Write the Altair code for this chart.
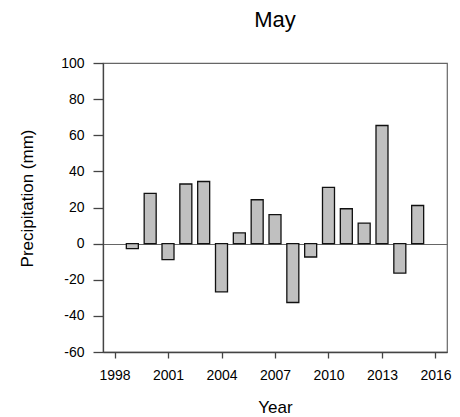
import altair as alt
import pandas as pd

# May precipitation anomalies by year
years = list(range(1999, 2016))
precip = [-2.8, 27.8, -8.9, 33.0, 34.4, -26.7, 5.9, 24.3, 16.1,
          -32.6, -7.4, 31.1, 19.3, 11.3, 65.4, -16.3, 21.1]
x_ticks = [1998, 2001, 2004, 2007, 2010, 2013, 2016]
y_ticks = [-60, -40, -20, 0, 20, 40, 60, 80, 100]

df = pd.DataFrame({"Year": years, "Precipitation": precip})

FONT = "Liberation Sans"
AXIS_COLOR = "#444444"

x_scale = alt.Scale(domain=[1997.635, 2016.365], nice=False, zero=False)
y_scale = alt.Scale(domain=[-60, 100], nice=False, zero=False)

chart = (
    alt.Chart(df)
    .mark_bar(size=12, fill="#c0c0c0", stroke="#111111", strokeWidth=1.3, orient="vertical")
    .encode(
        x=alt.X(
            "Year:Q",
            scale=x_scale,
            axis=alt.Axis(
                values=x_ticks, format="d", title="Year", grid=False,
                tickSize=6, labelPadding=10, labelFontSize=14, labelOverlap=False,
                titleFontSize=17, titleX=172, titleY=55,
                titleAlign="center", titleBaseline="middle",
            ),
        ),
        y=alt.Y(
            "Precipitation:Q",
            scale=y_scale,
            axis=alt.Axis(
                values=y_ticks, title="Precipitation (mm)",
                # only the zero gridline is shown, as the baseline of the bars
                grid=True, gridColor="#666666", gridWidth=1,
                gridOpacity=alt.condition("datum.value === 0", alt.value(1), alt.value(0)),
                tickSize=10, labelPadding=9, labelFontSize=14, labelOverlap=False,
                labelExpr="'' + datum.value",
                titleFontSize=17, titleX=-76, titleY=135,
                titleAlign="center", titleBaseline="middle", titleAngle=270,
            ),
        ),
        y2=alt.datum(0),
    )
    .properties(
        width=344,
        height=289,
        title=alt.TitleParams(
            "May", anchor="middle", fontSize=22, font=FONT,
            fontWeight="normal", baseline="alphabetic", offset=7, color="#000000",
        ),
        autosize=alt.AutoSizeParams(type="none"),
        padding={"left": 103, "top": 63, "right": 13, "bottom": 65},
    )
    .configure_view(stroke="#666666", strokeWidth=1.2)
    .configure_axis(
        labelFont=FONT, titleFont=FONT, labelColor="#000000", titleColor="#000000",
        titleFontWeight="normal", domainColor=AXIS_COLOR, tickColor=AXIS_COLOR,
        domainWidth=1.3, tickWidth=1.3,
    )
)

chart.save("out.html", embed_options={"renderer": "svg", "actions": False})
